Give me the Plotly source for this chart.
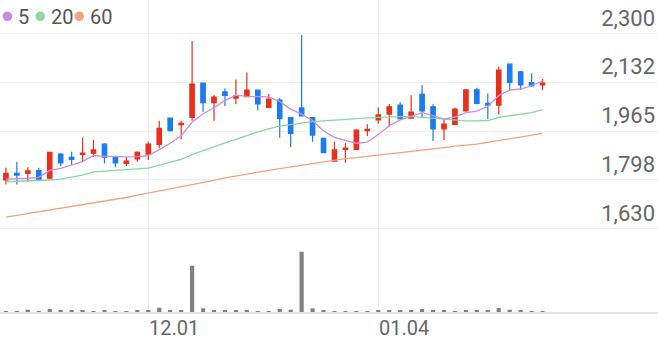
import plotly.graph_objects as go

# ---------------- data ----------------
dates = ["11.14", "11.15", "11.16", "11.17", "11.20", "11.21", "11.22", "11.23", "11.24", "11.27",
         "11.28", "11.29", "11.30", "12.01", "12.04", "12.05", "12.06", "12.07", "12.08", "12.11",
         "12.12", "12.13", "12.14", "12.15", "12.18", "12.19", "12.20", "12.21", "12.22", "12.26",
         "12.27", "12.28", "01.02", "01.03", "01.04", "01.05", "01.08", "01.09", "01.10", "01.11",
         "01.12", "01.15", "01.16", "01.17", "01.18", "01.19", "01.22", "01.23", "01.24", "01.25"]

opens = [1797, 1820, 1820, 1829, 1803, 1886, 1875, 1885, 1889, 1920,
         1875, 1854, 1869, 1886, 1919, 2009, 1987, 2012, 2129, 2062,
         2099, 2078, 2083, 2105, 2046, 2071, 2011, 2044, 2011, 1940,
         1862, 1902, 1902, 1966, 2003, 2023, 2054, 2009, 2091, 2048,
         1972, 1988, 2034, 2106, 2060, 2054, 2194, 2168, 2131, 2123]
highs = [1839, 1860, 1841, 1839, 1894, 1889, 1894, 1943, 1934, 1923,
         1877, 1877, 1896, 1928, 2000, 2011, 2000, 2274, 2131, 2088,
         2111, 2142, 2166, 2106, 2092, 2077, 2012, 2294, 2012, 1942,
         1928, 1923, 1971, 1988, 2046, 2058, 2064, 2088, 2123, 2057,
         2003, 2045, 2109, 2113, 2094, 2185, 2194, 2171, 2163, 2143]
lows = [1782, 1782, 1791, 1795, 1799, 1845, 1848, 1860, 1877, 1854,
        1841, 1845, 1860, 1866, 1906, 1963, 1937, 2000, 2031, 2000,
        2051, 2058, 2083, 2035, 2046, 1943, 1909, 2017, 1928, 1889,
        1860, 1856, 1900, 1948, 1991, 1980, 2005, 2009, 2011, 1931,
        1934, 1986, 2031, 2057, 2006, 2022, 2102, 2106, 2117, 2106]
closes = [1820, 1814, 1828, 1797, 1892, 1856, 1868, 1889, 1900, 1875,
          1856, 1862, 1892, 1920, 1974, 1966, 1991, 2126, 2062, 2081,
          2087, 2085, 2105, 2058, 2074, 2007, 1957, 2017, 1951, 1891,
          1900, 1906, 1968, 1971, 2020, 2048, 2007, 2030, 2034, 1972,
          1989, 2040, 2106, 2060, 2054, 2174, 2132, 2123, 2120, 2129]

ma5 = [1800, 1801, 1803, 1806, 1830, 1837, 1848, 1860, 1881, 1878,
       1878, 1876, 1877, 1881, 1901, 1923, 1949, 1995, 2024, 2045,
       2069, 2088, 2084, 2083, 2082, 2066, 2040, 2023, 2001, 1965,
       1943, 1933, 1923, 1927, 1953, 1983, 2003, 2015, 2028, 2018,
       2006, 2013, 2028, 2033, 2050, 2087, 2105, 2109, 2121, 2136]
ma20 = [1791, 1792, 1793, 1794, 1797, 1800, 1806, 1814, 1825, 1828,
        1830, 1832, 1835, 1838, 1848, 1858, 1868, 1884, 1898, 1912,
        1924, 1936, 1950, 1962, 1972, 1982, 1987, 1993, 1997, 2000,
        2003, 2005, 2008, 2010, 2012, 2013, 2014, 2015, 2012, 2009,
        2005, 2002, 2000, 2000, 2001, 2012, 2017, 2021, 2028, 2038]
ma60 = [1670, 1676, 1682, 1688, 1693, 1699, 1705, 1711, 1717, 1724,
        1730, 1737, 1745, 1752, 1759, 1766, 1774, 1781, 1789, 1796,
        1804, 1811, 1817, 1823, 1830, 1836, 1842, 1847, 1853, 1859,
        1865, 1870, 1874, 1878, 1882, 1887, 1891, 1895, 1900, 1904,
        1908, 1913, 1916, 1920, 1926, 1932, 1939, 1945, 1951, 1957]

volume = [50, 50, 115, 50, 150, 85, 65, 85, 50, 65,
          50, 50, 65, 65, 215, 85, 85, 2315, 185, 100,
          100, 85, 85, 50, 25, 150, 115, 3015, 185, 85,
          35, 35, 35, 50, 85, 65, 65, 85, 150, 85,
          65, 50, 100, 65, 65, 200, 115, 65, 50, 35]

price_ticks = [1630, 1797.5, 1965, 2132.5, 2300]
price_tick_labels = ["1,630", "1,798", "1,965", "2,132", "2,300"]
date_ticks = ["12.01", "01.04"]
legend_names = ["5", "20", "60"]

# ---------------- style ----------------
W, H = 658, 342
RED = "#e8301c"
BLUE = "#1b7bf0"
MA_COLORS = ["#cf8ce6", "#86d89c", "#f5a27c"]
LEG_COLORS = ["#c98be3", "#8fd8a2", "#f6a37f"]
FONT = "Roboto"


def py(pix):  # pixel y (from top) -> paper fraction
    return 1 - pix / H


def px(pix):
    return pix / W


split = py(236)

fig = go.Figure()
for vals, col in zip([ma60, ma20, ma5], [MA_COLORS[2], MA_COLORS[1], MA_COLORS[0]]):
    fig.add_trace(go.Scatter(x=dates, y=vals, mode="lines", line=dict(color=col, width=1.3),
                             hoverinfo="skip", xaxis="x", yaxis="y"))

fig.add_trace(go.Candlestick(
    x=dates, open=opens, high=highs, low=lows, close=closes,
    increasing=dict(line=dict(color=RED, width=1.2), fillcolor=RED),
    decreasing=dict(line=dict(color=BLUE, width=1.2), fillcolor=BLUE),
    whiskerwidth=0, xaxis="x", yaxis="y", hoverinfo="skip"))

fig.add_trace(go.Bar(x=dates, y=volume, marker=dict(color="#808080", line=dict(width=0)),
                     width=0.38, xaxis="x", yaxis="y2", hoverinfo="skip"))

# legend (circles + labels)
circle_cx = [7.4, 40.2, 79.2]
text_x = [16.0, 49.0, 88.0]
r = 4.8
for name, col, cx, tx in zip(legend_names, LEG_COLORS, circle_cx, text_x):
    fig.add_shape(type="circle", xref="paper", yref="paper",
                  x0=px(cx - r), x1=px(cx + r), y0=py(16.3 + r), y1=py(16.3 - r),
                  fillcolor=col, line=dict(width=0))
    fig.add_annotation(x=px(tx), y=py(17), xref="paper", yref="paper", text=name,
                       showarrow=False, xanchor="left", yanchor="middle",
                       font=dict(family=FONT, size=20, color="#555555"))

fig.update_layout(
    width=W, height=H, margin=dict(l=0, r=0, t=0, b=0, autoexpand=False),
    paper_bgcolor="white", plot_bgcolor="white", showlegend=False,
    boxgap=0.42,
    xaxis=dict(type="category", range=[-0.539, 59.54], anchor="y2", domain=[0, 1],
               tickvals=date_ticks, ticktext=date_ticks, showgrid=True, gridcolor="#f0f0f0",
               gridwidth=1, showline=True, linecolor="#e4e4e4", linewidth=1.5, ticks="",
               ticklabelposition="outside right", automargin=False, ticklabelstandoff=-3,
               tickfont=dict(family=FONT, size=20, color="#666666"),
               rangeslider=dict(visible=False), zeroline=False, fixedrange=True),
    yaxis=dict(domain=[split, 1], range=[1605.0, 2414.2], side="right", anchor="x",
               tickvals=price_ticks, ticktext=price_tick_labels, automargin=False,
               ticklabelposition="inside top", showgrid=True, gridcolor="#eeeeee",
               gridwidth=1, ticks="", zeroline=False, showline=False,
               tickfont=dict(family=FONT, size=22, color="#666666")),
    yaxis2=dict(domain=[py(312), split], range=[0, 3800], anchor="x", automargin=False,
                showticklabels=False, showgrid=False, zeroline=False, showline=False),
)

fig.write_html("out.html")
